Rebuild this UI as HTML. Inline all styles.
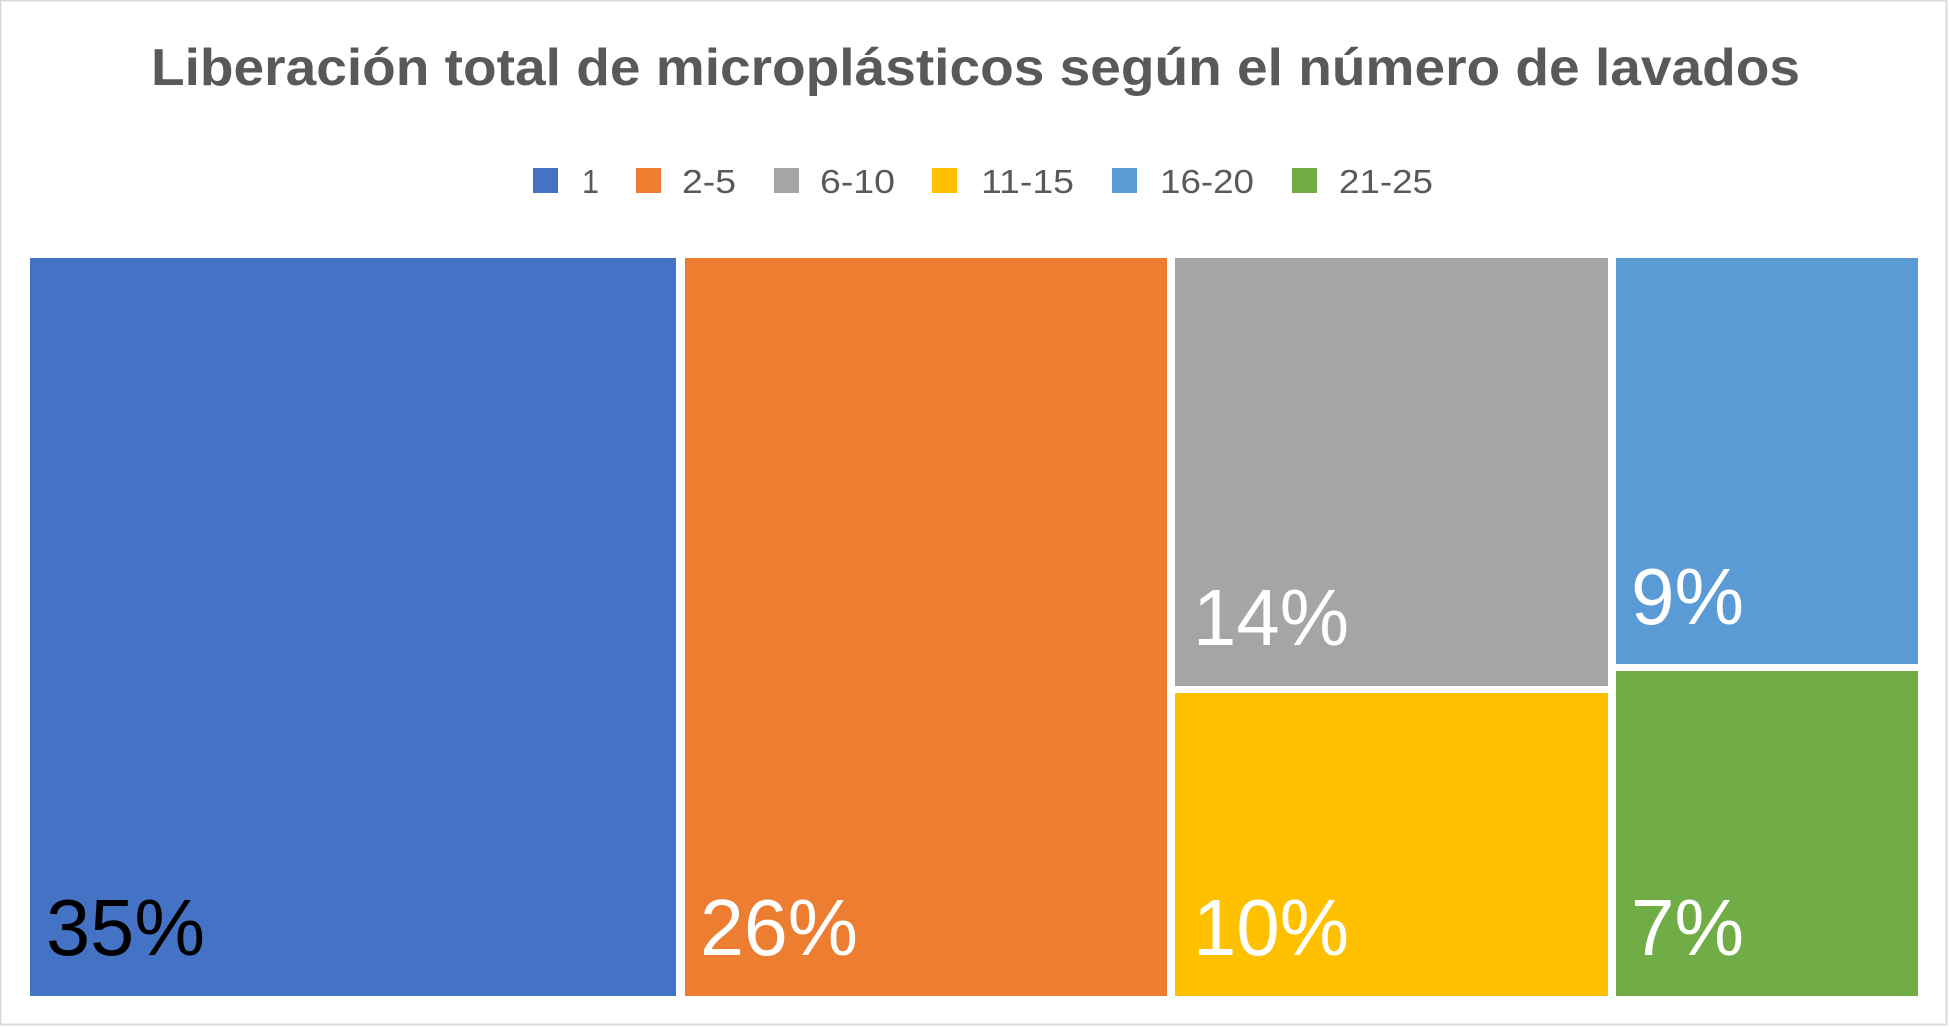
<!DOCTYPE html>
<html><head><meta charset="utf-8"><style>html,body{margin:0;padding:0;background:#fff}svg{display:block}</style></head>
<body>
<svg width="1949" height="1027" viewBox="0 0 1949 1027" xmlns="http://www.w3.org/2000/svg" font-family="Liberation Sans, sans-serif">
<rect x="0.5" y="0.5" width="1946" height="1024" fill="#fff" stroke="#d9d9d9" stroke-width="2"/>
<text x="151" y="85" font-size="52" font-weight="bold" fill="#595959" textLength="1649" lengthAdjust="spacingAndGlyphs">Liberación total de microplásticos según el número de lavados</text>
<g font-size="33" fill="#595959" lengthAdjust="spacingAndGlyphs">
<rect x="533" y="168" width="25" height="25" fill="#4472C4"/><text x="582" y="193" textLength="17" lengthAdjust="spacingAndGlyphs">1</text>
<rect x="636" y="168" width="25" height="25" fill="#ED7D31"/><text x="682" y="193" textLength="54" lengthAdjust="spacingAndGlyphs">2-5</text>
<rect x="774" y="168" width="25" height="25" fill="#A5A5A5"/><text x="820" y="193" textLength="75" lengthAdjust="spacingAndGlyphs">6-10</text>
<rect x="932" y="168" width="25" height="25" fill="#FFC000"/><text x="981" y="193" textLength="93" lengthAdjust="spacingAndGlyphs">11-15</text>
<rect x="1112" y="168" width="25" height="25" fill="#5B9BD5"/><text x="1160" y="193" textLength="94" lengthAdjust="spacingAndGlyphs">16-20</text>
<rect x="1292" y="168" width="25" height="25" fill="#70AD47"/><text x="1339" y="193" textLength="94" lengthAdjust="spacingAndGlyphs">21-25</text>
</g>
<rect x="30" y="258" width="646" height="738" fill="#4472C4"/>
<rect x="685" y="258" width="482" height="738" fill="#ED7D31"/>
<rect x="1175" y="258" width="433" height="428" fill="#A5A5A5"/>
<rect x="1175" y="693" width="433" height="303" fill="#FFC000"/>
<rect x="1616" y="258" width="302" height="406" fill="#5B9BD5"/>
<rect x="1616" y="671" width="302" height="325" fill="#70AD47"/>
<g font-size="80">
<text x="46" y="955" fill="#000" textLength="159" lengthAdjust="spacingAndGlyphs">35%</text>
<text x="700" y="955" fill="#fff" textLength="158" lengthAdjust="spacingAndGlyphs">26%</text>
<text x="1193" y="955" fill="#fff" textLength="156" lengthAdjust="spacingAndGlyphs">10%</text>
<text x="1193" y="645" fill="#fff" textLength="156" lengthAdjust="spacingAndGlyphs">14%</text>
<text x="1631" y="624" fill="#fff" textLength="113" lengthAdjust="spacingAndGlyphs">9%</text>
<text x="1631" y="955" fill="#fff" textLength="113" lengthAdjust="spacingAndGlyphs">7%</text>
</g>
</svg>
</body></html>
